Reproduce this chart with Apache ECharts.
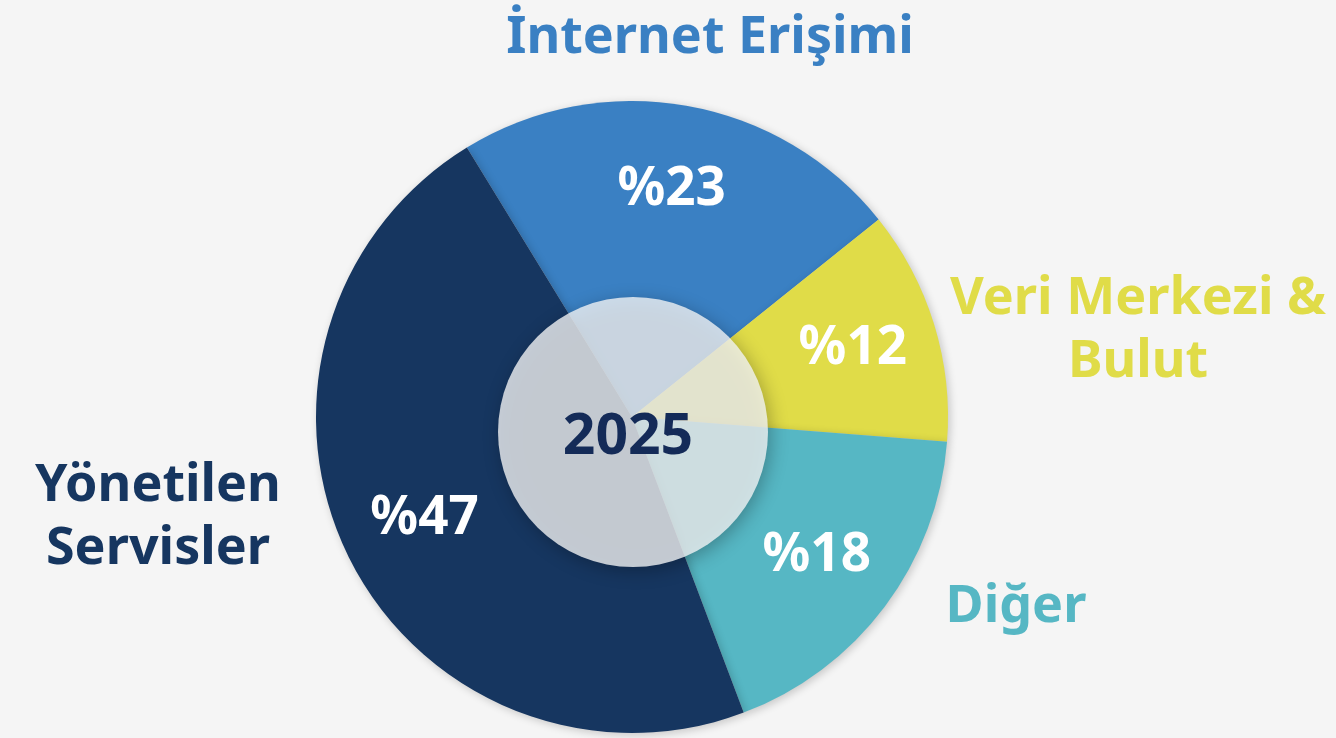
<!DOCTYPE html>
<html>
<head>
<meta charset="utf-8">
<script src="https://cdn.jsdelivr.net/npm/echarts@6/dist/echarts.min.js"></script>
<style>
  html, body { margin: 0; padding: 0; background: #f5f5f5; }
  #chart { width: 1336px; height: 738px; }
</style>
</head>
<body>
<div id="chart"></div>
<script>
// values
var categories = ['İnternet Erişimi', 'Veri Merkezi &\nBulut', 'Diğer', 'Yönetilen\nServisler'];
var shares = [23, 12, 18, 47];
var colors = ['#3a80c3', '#e0dc48', '#56b7c4', '#163660'];
var yearLabel = '2025';

// where the category names sit (label layout only)
var namePos = [[710, 38], [1138, 331], [1016, 607], [158, 518]];

var pieCenter = [632, 417];
var pieRadius = 316;
var font = '"Noto Sans", "Open Sans", sans-serif';

var chart = echarts.init(document.getElementById('chart'));

var option = {
    animation: false,
    backgroundColor: '#f5f5f5',
    graphic: [
        {
            type: 'circle',
            z: 100,
            shape: { cx: 633, cy: 432, r: 135 },
            style: {
                fill: 'rgba(244,245,246,0.79)',
                shadowBlur: 18,
                shadowColor: 'rgba(0,0,0,0.35)',
                shadowOffsetX: 3,
                shadowOffsetY: 4
            }
        },
        {
            type: 'text',
            z: 101,
            x: 628,
            y: 438,
            style: {
                text: yearLabel,
                font: 'bold 57px ' + font,
                fill: '#142b58',
                align: 'center',
                verticalAlign: 'middle'
            }
        }
    ],
    series: [
        {
            // slices
            type: 'pie',
            center: pieCenter,
            radius: [0, pieRadius],
            startAngle: 121.5,
            clockwise: true,
            avoidLabelOverlap: false,
            itemStyle: {
                shadowBlur: 8,
                shadowColor: 'rgba(0,0,0,0.2)',
                shadowOffsetX: 2,
                shadowOffsetY: 2
            },
            label: {
                show: true,
                position: 'outside',
                fontFamily: font,
                fontWeight: 'bold',
                fontSize: 52,
                lineHeight: 63,
                formatter: '{b}'
            },
            labelLine: { show: false },
            labelLayout: function (p) {
                return {
                    x: namePos[p.dataIndex][0],
                    y: namePos[p.dataIndex][1],
                    align: 'center',
                    verticalAlign: 'middle'
                };
            },
            data: categories.map(function (c, i) {
                return {
                    name: c,
                    value: shares[i],
                    itemStyle: { color: colors[i] },
                    label: { color: colors[i] }
                };
            })
        },
        {
            // percentage labels, ring used only for label placement
            type: 'pie',
            center: pieCenter,
            radius: [140, pieRadius],
            startAngle: 121.5,
            silent: true,
            z: 3,
            itemStyle: { color: 'transparent' },
            label: {
                show: true,
                position: 'inside',
                color: '#ffffff',
                fontFamily: font,
                fontWeight: 'bold',
                fontSize: 53,
                formatter: function (p) { return '%' + p.value; }
            },
            labelLine: { show: false },
            data: categories.map(function (c, i) {
                return { name: c, value: shares[i] };
            })
        }
    ]
};

chart.setOption(option);
</script>
</body>
</html>
